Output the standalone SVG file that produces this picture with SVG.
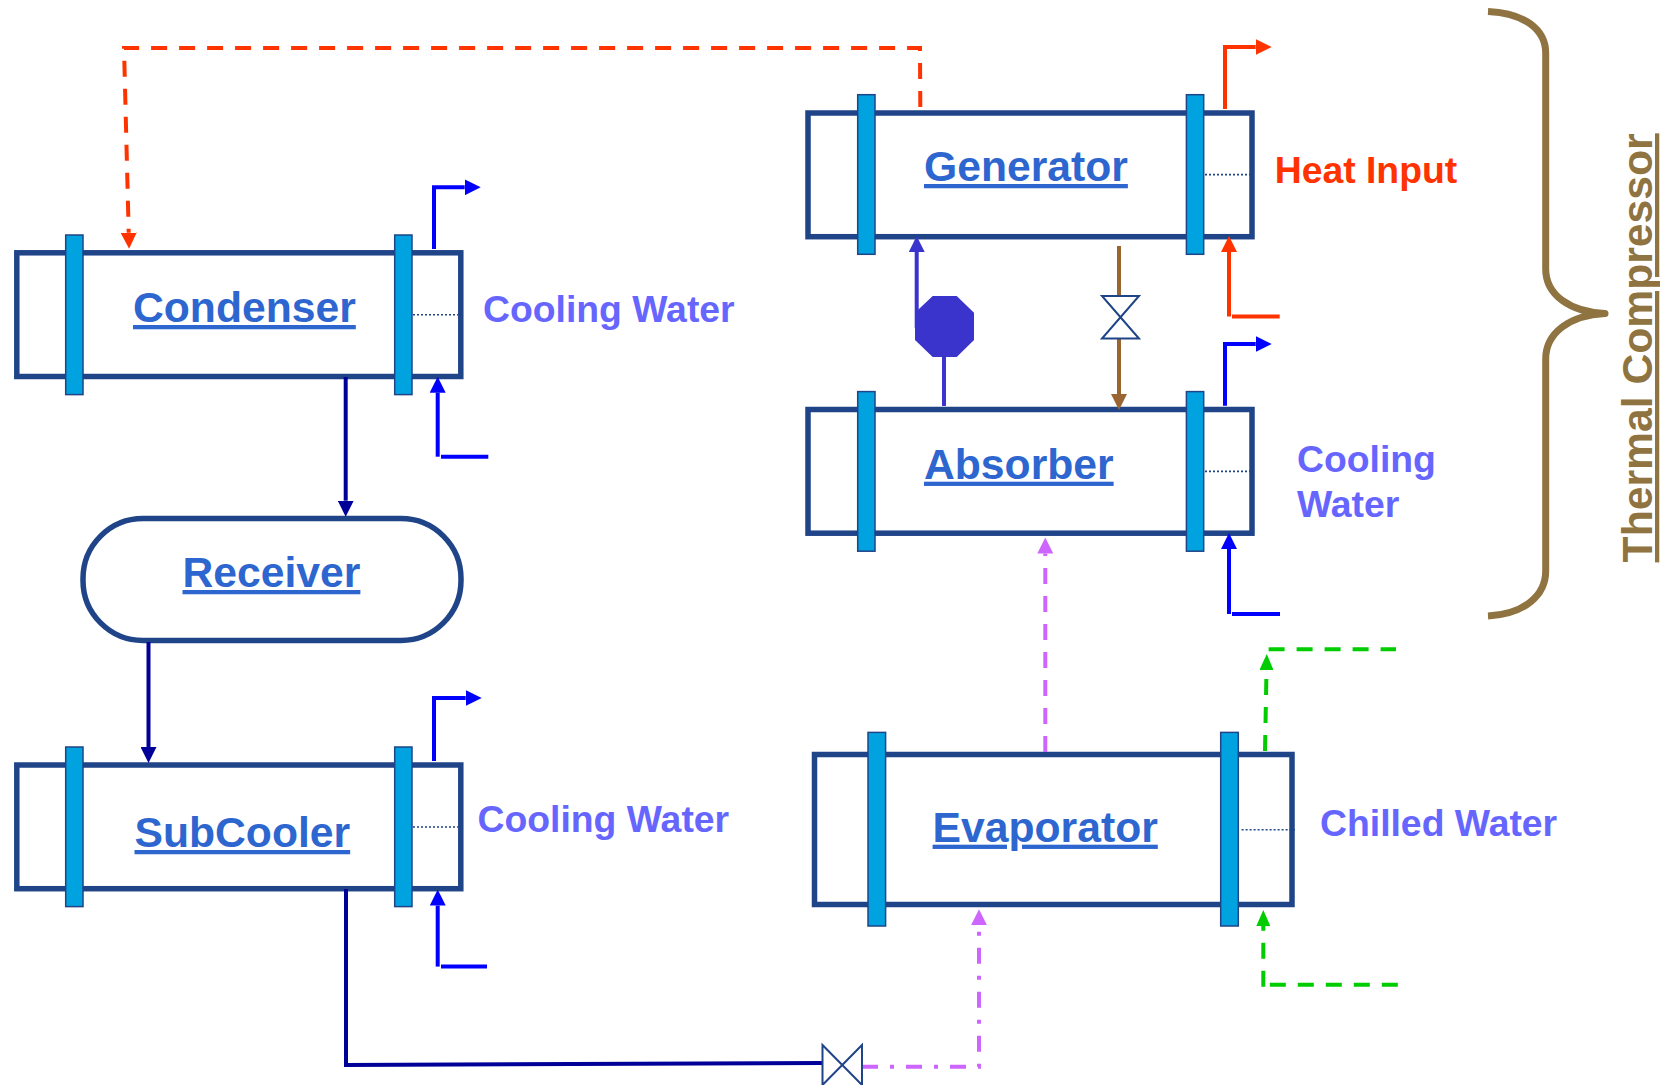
<svg xmlns="http://www.w3.org/2000/svg" width="1660" height="1085" viewBox="0 0 1660 1085">
<style>
text{font-family:"Liberation Sans",Arial,sans-serif;font-weight:700}
.name{font-size:42.67px;fill:#2E66D0;text-decoration:underline}
.side{font-size:37.33px;fill:#6666FF}
.shell{fill:#fff;stroke:#1F4488;stroke-width:5.5}
.flange{fill:#00A3E0;stroke:#1F4488;stroke-width:1.5}
.tube{stroke:#1F4488;stroke-width:1.6;stroke-dasharray:2 2;fill:none}
.valve{fill:#fff;stroke:#1F4488;stroke-width:2}
line,polyline{fill:none}
.blue{stroke:#0000FF;stroke-width:4}
.red{stroke:#FF3300;stroke-width:4}
.navy{stroke:#000099;stroke-width:4}
.green{stroke:#00CC00;stroke-width:4;stroke-dasharray:16 12}
.pink{stroke:#CC66FF;stroke-width:4;stroke-dasharray:16 12}
.pinkdd{stroke:#CC66FF;stroke-width:4;stroke-dasharray:16 12 4 12}
.reddash{stroke:#FF3300;stroke-width:4;stroke-dasharray:16 12}
.pump{stroke:#3A33CC;stroke-width:4}
.brown{stroke:#996633;stroke-width:4}
</style>
<defs>
<marker id="aBlue" markerUnits="userSpaceOnUse" markerWidth="16" markerHeight="16" refX="0" refY="8" orient="auto"><path d="M0,0L16,8L0,16z" fill="#0000FF"/></marker>
<marker id="aRed" markerUnits="userSpaceOnUse" markerWidth="16" markerHeight="16" refX="0" refY="8" orient="auto"><path d="M0,0L16,8L0,16z" fill="#FF3300"/></marker>
<marker id="aNavy" markerUnits="userSpaceOnUse" markerWidth="16" markerHeight="16" refX="0" refY="8" orient="auto"><path d="M0,0L16,8L0,16z" fill="#000099"/></marker>
<marker id="aGreen" markerUnits="userSpaceOnUse" markerWidth="16" markerHeight="14" refX="0" refY="7" orient="auto"><path d="M0,0L16,7L0,14z" fill="#00CC00"/></marker>
<marker id="aPink" markerUnits="userSpaceOnUse" markerWidth="16" markerHeight="16" refX="0" refY="8" orient="auto"><path d="M0,0L16,8L0,16z" fill="#CC66FF"/></marker>
<marker id="aPump" markerUnits="userSpaceOnUse" markerWidth="16" markerHeight="16" refX="0" refY="8" orient="auto"><path d="M0,0L16,8L0,16z" fill="#3A33CC"/></marker>
<marker id="aBrown" markerUnits="userSpaceOnUse" markerWidth="16" markerHeight="16" refX="0" refY="8" orient="auto"><path d="M0,0L16,8L0,16z" fill="#996633"/></marker>
</defs>

<g id="condenser">
<rect class="shell" x="16.8" y="252.8" width="444" height="123.7"/>
<rect class="flange" x="65.7" y="235" width="17.3" height="159.6"/>
<rect class="flange" x="394.7" y="235" width="17.3" height="159.6"/>
<line class="tube" x1="413" y1="314.7" x2="458" y2="314.7"/>
<text class="name" x="133" y="322">Condenser</text>
</g>
<g id="receiver">
<rect class="shell" x="83" y="518.5" width="378" height="122" rx="60" ry="60"/>
<text class="name" x="182.5" y="587">Receiver</text>
</g>
<g id="subcooler">
<rect class="shell" x="16.8" y="765" width="444" height="123.7"/>
<rect class="flange" x="65.7" y="747" width="17.3" height="159.6"/>
<rect class="flange" x="394.7" y="747" width="17.3" height="159.6"/>
<line class="tube" x1="413" y1="827" x2="458" y2="827"/>
<text class="name" x="134.5" y="847">SubCooler</text>
</g>
<g id="generator">
<rect class="shell" x="808" y="113" width="444" height="123.7"/>
<rect class="flange" x="857.7" y="94.7" width="17.3" height="159.6"/>
<rect class="flange" x="1186.4" y="94.7" width="17.3" height="159.6"/>
<line class="tube" x1="1205" y1="174.6" x2="1250" y2="174.6"/>
<text class="name" x="924" y="181">Generator</text>
</g>
<g id="absorber">
<rect class="shell" x="808" y="409.5" width="444" height="123.7"/>
<rect class="flange" x="857.7" y="391.6" width="17.3" height="159.6"/>
<rect class="flange" x="1186.4" y="391.6" width="17.3" height="159.6"/>
<line class="tube" x1="1205" y1="471.4" x2="1250" y2="471.4"/>
<text class="name" x="924" y="478.7">Absorber</text>
</g>
<g id="evaporator">
<rect class="shell" x="814.5" y="754.5" width="477.5" height="150"/>
<rect class="flange" x="868" y="732.4" width="17.6" height="193.6"/>
<rect class="flange" x="1220.7" y="732.4" width="17.6" height="193.6"/>
<line class="tube" x1="1241.6" y1="829.7" x2="1295" y2="829.7"/>
<text class="name" x="932.6" y="841.7">Evaporator</text>
</g>

<g id="connectors">
<polyline class="reddash" points="920.3,107 920,47.9 124,47.9 128.7,232.7" marker-end="url(#aRed)"/>
<polyline class="navy" points="345.7,377 345.7,500.7" marker-end="url(#aNavy)"/>
<polyline class="navy" points="148.5,642 148.5,747" marker-end="url(#aNavy)"/>
<polyline class="navy" points="346,889 346,1065 822,1063"/>
<polyline class="blue" points="434,249 434,187.3 464.7,187.3" marker-end="url(#aBlue)"/>
<polyline class="blue" points="437.7,456.7 437.7,392.7" marker-end="url(#aBlue)"/>
<line class="blue" x1="441" y1="456.7" x2="488.3" y2="456.7"/>
<polyline class="blue" points="434,761 434,698 465.7,698" marker-end="url(#aBlue)"/>
<polyline class="blue" points="437.7,966.6 437.7,905.6" marker-end="url(#aBlue)"/>
<line class="blue" x1="441" y1="966.6" x2="487" y2="966.6"/>
<polyline class="red" points="1225,109 1225,47 1255.7,47" marker-end="url(#aRed)"/>
<polyline class="red" points="1229,316.5 1229,252" marker-end="url(#aRed)"/>
<line class="red" x1="1232" y1="316.5" x2="1279.7" y2="316.5"/>
<polyline class="blue" points="1225,405.7 1225,344 1255.7,344" marker-end="url(#aBlue)"/>
<polyline class="blue" points="1229,614 1229,549" marker-end="url(#aBlue)"/>
<line class="blue" x1="1232" y1="614" x2="1280" y2="614"/>
<polyline class="pump" points="916.7,328 916.7,252" marker-end="url(#aPump)"/>
<line class="pump" x1="944" y1="357" x2="944" y2="406"/>
<line class="brown" x1="1119" y1="246" x2="1119" y2="296"/>
<polyline class="brown" points="1119,338 1119,394" marker-end="url(#aBrown)"/>
<polyline class="pink" points="1045.3,752 1045.3,553.6" marker-end="url(#aPink)"/>
<polyline class="pinkdd" points="862,1066.7 979,1066.7 979,925.3" marker-end="url(#aPink)"/>
<polyline class="green" points="1265,751 1266.5,670" marker-end="url(#aGreen)"/>
<line class="green" x1="1268.6" y1="649.3" x2="1396" y2="649.3"/>
<polyline class="green" points="1263.3,986.7 1263.3,926" marker-end="url(#aGreen)"/>
<line class="green" x1="1269.8" y1="984.7" x2="1398" y2="984.7"/>
</g>

<g id="pump"><polygon points="932.7,296 956.7,296 974,312.7 974,340 956.7,357 932.7,357 915,340 915,312.7" fill="#3A33CC"/></g>
<g id="valve-top"><polygon class="valve" points="1102,296 1139,296 1102,338.5 1139,338.5"/></g>
<g id="valve-bottom"><polygon class="valve" points="822.5,1045 862,1085 862,1045 822.5,1085"/></g>

<g id="labels">
<text class="side" x="483" y="322">Cooling Water</text>
<text class="side" x="477.5" y="832">Cooling Water</text>
<text class="side" x="1274.7" y="183" style="fill:#FF3300">Heat Input</text>
<text class="side" x="1297" y="472">Cooling</text>
<text class="side" x="1297" y="516.7">Water</text>
<text class="side" x="1320" y="836">Chilled Water</text>
</g>
<g id="thermal-compressor">
<path d="M1488,11.4C1525,13 1545.7,30 1545.7,53L1545.7,269C1545.7,295 1570,312 1605,313.5C1570,315 1545.7,333 1545.7,359L1545.7,571C1545.7,595 1525,614 1488,616" fill="none" stroke="#8F7340" stroke-width="7" stroke-linecap="butt" stroke-linejoin="round"/>
<text transform="translate(1652,562.4) rotate(-90)" style="font-size:42.67px;fill:#8F7340;text-decoration:underline">Thermal Compressor</text>
</g>
</svg>
